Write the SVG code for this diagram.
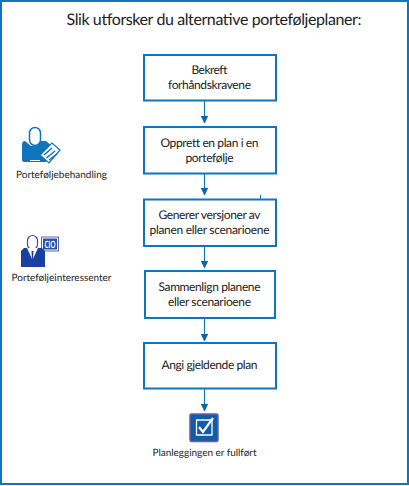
<svg xmlns="http://www.w3.org/2000/svg" width="409" height="486" viewBox="0 0 409 486">
<style>
text{font-family:Lato,"Open Sans","Liberation Sans",sans-serif;fill:#222;text-anchor:middle;font-size:10px;text-rendering:geometricPrecision}
.t{font-size:12px}
.box{fill:#fff;stroke:#0f75bc;stroke-width:2}
.c{stroke:#0f75bc;stroke-width:1.200;fill:none;marker-end:url(#a)}
.ib{fill:#0f75bc}
</style>
<defs><marker id="a" markerUnits="userSpaceOnUse" markerWidth="8" markerHeight="8" refX="7.500" refY="4" orient="auto"><path d="M0,0L8,4L0,8Z" fill="#0f62ac"/></marker></defs>
<rect width="409" height="486" fill="#fff"/>
<rect x="1" y="1" width="407" height="483" fill="none" stroke="#0f75bc" stroke-width="2"/>
<text x="214" y="25" style="font-size:16px" textLength="295">Slik utforsker du alternative porteføljeplaner:</text>
<g id="connectors">
<path class="c" d="M204.500 101V123"/><path class="c" d="M204.500 174V195"/><path class="c" d="M204.500 247V268"/><path class="c" d="M204.500 319V341"/><path class="c" d="M204.500 389V411"/>
<path d="M260.500 195V199" stroke="#0f75bc" fill="none"/>
</g>
<g id="n1"><rect class="box" x="144" y="55" width="132" height="45.500"/><text class="t" x="209.500" y="74" textLength="36">Bekreft</text><text class="t" x="209.500" y="89" textLength="83">forhåndskravene</text></g>
<g id="n2"><rect class="box" x="144" y="127" width="132" height="46.500"/><text class="t" x="209.500" y="147" textLength="98">Opprett en plan i en</text><text class="t" x="209.500" y="162" textLength="48">portefølje</text></g>
<g id="n3"><rect class="box" x="144" y="199.500" width="132" height="46.500"/><text class="t" x="209.500" y="219" textLength="102">Generer versjoner av</text><text class="t" x="209.500" y="234" textLength="120">planen eller scenarioene</text></g>
<g id="n4"><rect class="box" x="145" y="271" width="130" height="47"/><text class="t" x="209.500" y="291" textLength="102">Sammenlign planene</text><text class="t" x="209.500" y="306" textLength="83">eller scenarioene</text></g>
<g id="n5"><rect class="box" x="144" y="343" width="132" height="45.500"/><text class="t" x="209.500" y="369" textLength="96">Angi gjeldende plan</text></g>
<g id="end">
<rect x="190" y="414" width="28" height="27.500" rx="1.500" fill="#0f5ca8" stroke="#6b5ea8" stroke-width="1.500"/>
<path d="M196.500 420H212V435H196.500Z" fill="none" stroke="#fff" stroke-width="1.300"/>
<path d="M199 427L203 432L213 418" fill="none" stroke="#fff" stroke-width="2.200"/>
<text x="204.500" y="456" textLength="104">Planleggingen er fullført</text>
</g>
<g id="actor1">
<path class="ib" d="M25 141Q22 141 22 145V160Q22 162 24 162H46L52 146L46 141H40L35 146H31Z"/>
<path d="M30 160.500H40" stroke="#fff" fill="none"/>
<rect x="29.500" y="127.500" width="11" height="18" rx="5.500" fill="#fff" stroke="#0f75bc" stroke-width="1.500"/>
<path d="M40 155L52 143L60 150L49 163Z" fill="#fff" stroke="#0f75bc" stroke-width="1.200"/>
<path d="M44 155L52 148M46.500 158L55 151M49 160L57 154" stroke="#0f75bc" stroke-width="1.500" fill="none"/>
<text x="61.500" y="178" textLength="91">Porteføljebehandling</text>
</g>
<g id="actor2">
<rect x="41.500" y="237" width="17" height="14" fill="#fff" stroke="#6b5ea8"/>
<rect x="43" y="238.500" width="14" height="11" fill="#1f56a8"/>
<text x="50" y="248" style="font-size:10px;fill:#fff;font-weight:700" textLength="11" lengthAdjust="spacingAndGlyphs">CIO</text>
<path d="M24 248H42L45 251V267H21V251Z" fill="#1a3f9e"/>
<rect x="27.500" y="235.500" width="10" height="14" rx="5" fill="#fff" stroke="#5b3f9e" stroke-width="1.200"/>
<path d="M27 248L32.500 260L38 248Z" fill="#fff"/>
<path d="M31.500 251H33.500L33 260H32Z" fill="#1a3f9e"/>
<text x="61.500" y="281" textLength="100">Porteføljeinteressenter</text>
</g>
</svg>
